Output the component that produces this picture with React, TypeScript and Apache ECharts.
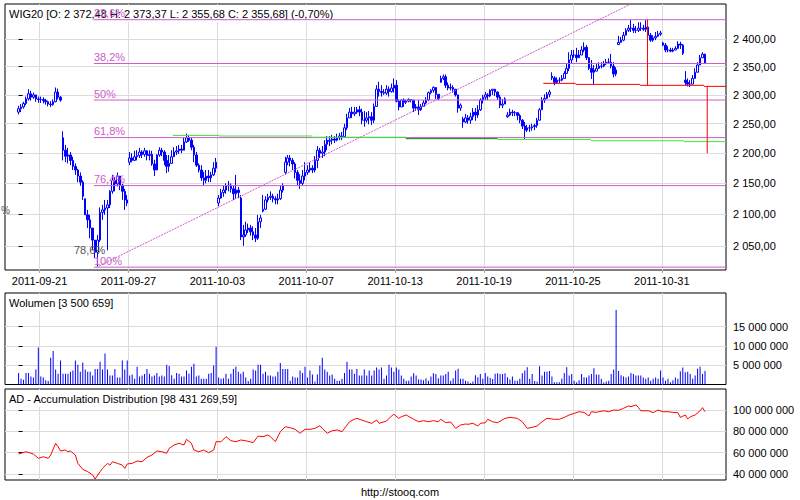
import React, { useEffect, useRef } from 'react';
import * as echarts from 'echarts';

const FONT = '"Liberation Sans", Arial, sans-serif';

const DAYS = ['2011-09-20','2011-09-21','2011-09-22','2011-09-23','2011-09-26','2011-09-27','2011-09-28','2011-09-29','2011-09-30','2011-10-03','2011-10-04','2011-10-05','2011-10-06','2011-10-07','2011-10-10','2011-10-11','2011-10-12','2011-10-13','2011-10-14','2011-10-17','2011-10-18','2011-10-19','2011-10-20','2011-10-21','2011-10-24','2011-10-25','2011-10-26','2011-10-27','2011-10-28','2011-10-31','2011-11-01'];
const BARS_PER_DAY = 9;
const X_LABEL_DAYS = ['2011-09-21','2011-09-27','2011-10-03','2011-10-07','2011-10-13','2011-10-19','2011-10-25','2011-10-31'];

const DAY_OPENS = [2270,2292,2226,2125,2110,2185,2198,2194,2197,2118,2126,2105,2168,2168,2220,2270,2256,2317,2279,2322,2258,2296,2262,2243,2333,2371,2342,2390,2420,2393,2326];

const CLOSES = [
  2276,2279,2285,2293,2302,2296,2300,2293,2292,
  2292,2290,2288,2284,2283,2288,2305,2296,2291,
  2205,2195,2197,2188,2178,2172,2162,2152,2129,
  2099,2091,2078,2059,2040,2059,2103,2107,2110,
  2115,2137,2155,2149,2162,2147,2137,2123,2118,
  2192,2188,2194,2196,2202,2198,2204,2196,2198,
  2182,2172,2197,2205,2202,2188,2178,2183,2194,
  2202,2204,2207,2205,2219,2226,2222,2210,2197,
  2180,2172,2159,2155,2162,2159,2164,2175,2185,
  2126,2135,2139,2146,2147,2141,2133,2139,2135,
  2064,2067,2075,2078,2072,2067,2062,2088,2094,
  2108,2123,2127,2129,2125,2123,2125,2139,2146,
  2185,2192,2188,2182,2168,2155,2150,2162,2168,
  2172,2175,2172,2188,2205,2200,2202,2215,2222,
  2222,2224,2222,2226,2229,2228,2243,2260,2270,
  2267,2270,2274,2270,2256,2256,2260,2262,2256,
  2280,2310,2306,2304,2303,2310,2306,2312,2317,
  2289,2279,2291,2287,2289,2292,2291,2277,2279,
  2274,2280,2286,2291,2304,2308,2313,2301,2293,
  2329,2332,2317,2312,2313,2310,2300,2277,2282,
  2253,2260,2256,2262,2270,2265,2274,2291,2296,
  2300,2298,2308,2310,2305,2296,2282,2284,2293,
  2265,2270,2269,2269,2264,2256,2246,2239,2243,
  2243,2245,2247,2256,2274,2291,2294,2301,2305,
  2330,2322,2326,2326,2329,2338,2347,2362,2371,
  2371,2366,2371,2380,2385,2366,2347,2340,2344,
  2347,2351,2351,2355,2358,2358,2351,2337,2344,
  2394,2398,2407,2416,2420,2420,2416,2416,2420,
  2420,2418,2422,2407,2398,2402,2405,2409,2411,
  2389,2380,2380,2378,2380,2383,2391,2389,2374,
  2322,2319,2319,2329,2340,2353,2366,2372.48,2355.68,
];

const HIGHS = [
  2281,2284,2288,2297,2310,2307,2304,2300,2297,
  2297,2296,2293,2290,2289,2292,2313,2311,2298,
  2237,2214,2209,2202,2194,2183,2174,2168,2155,
  2123,2107,2099,2078,2051,2067,2111,2115,2123,
  2123,2139,2164,2160,2168,2157,2149,2141,2131,
  2202,2200,2204,2205,2209,2205,2209,2205,2205,
  2204,2189,2198,2210,2209,2205,2197,2197,2205,
  2210,2212,2214,2214,2226,2233,2231,2226,2214,
  2202,2183,2180,2169,2172,2172,2169,2185,2192,
  2131,2141,2146,2150,2154,2150,2146,2164,2144,
  2131,2083,2088,2085,2083,2081,2078,2099,2099,
  2131,2129,2133,2137,2133,2129,2133,2146,2150,
  2194,2197,2197,2192,2185,2172,2165,2172,2185,
  2180,2185,2180,2195,2212,2209,2212,2222,2229,
  2229,2231,2229,2233,2234,2236,2250,2267,2277,
  2279,2279,2279,2281,2276,2272,2270,2272,2270,
  2285,2317,2323,2317,2310,2317,2315,2320,2329,
  2326,2292,2292,2294,2292,2294,2292,2291,2284,
  2291,2284,2291,2296,2306,2310,2315,2313,2301,
  2334,2336,2336,2322,2320,2317,2310,2297,2285,
  2262,2267,2265,2269,2277,2277,2282,2294,2300,
  2305,2303,2310,2310,2309,2306,2300,2293,2296,
  2270,2276,2274,2272,2270,2267,2258,2253,2248,
  2248,2250,2250,2260,2277,2296,2301,2305,2309,
  2340,2333,2331,2331,2335,2342,2356,2376,2380,
  2380,2384,2380,2387,2394,2389,2367,2362,2353,
  2355,2358,2358,2360,2364,2365,2373,2358,2349,
  2406,2404,2413,2420,2426,2435,2428,2424,2431,
  2431,2426,2435,2422,2411,2407,2413,2415,2415,
  2395,2393,2387,2384,2384,2387,2396,2395,2391,
  2342,2329,2326,2335,2347,2358,2371,2376,2373.37,
];

const LOWS = [
  2266,2270,2276,2282,2290,2290,2293,2288,2286,
  2286,2285,2283,2280,2279,2281,2287,2292,2288,
  2188,2185,2183,2180,2172,2164,2152,2146,2123,
  2099,2078,2062,2043,2031,2018,2056,2091,2099,
  2043,2110,2133,2137,2145,2139,2123,2107,2113,
  2180,2185,2187,2188,2192,2192,2194,2188,2188,
  2179,2162,2172,2194,2195,2180,2167,2169,2182,
  2194,2197,2199,2200,2205,2217,2219,2205,2185,
  2177,2168,2154,2146,2150,2152,2152,2162,2168,
  2113,2125,2128,2133,2137,2135,2123,2125,2126,
  2059,2050,2064,2070,2066,2059,2056,2059,2078,
  2103,2107,2119,2123,2119,2116,2116,2123,2135,
  2164,2180,2178,2172,2158,2147,2141,2146,2155,
  2164,2168,2167,2168,2175,2192,2192,2195,2205,
  2212,2215,2217,2220,2222,2222,2226,2239,2260,
  2260,2263,2267,2263,2249,2245,2252,2249,2248,
  2251,2279,2297,2297,2300,2300,2297,2304,2304,
  2287,2273,2282,2279,2284,2287,2287,2270,2272,
  2265,2272,2279,2284,2289,2301,2304,2293,2291,
  2322,2326,2312,2308,2308,2304,2297,2269,2272,
  2243,2251,2250,2250,2256,2255,2260,2272,2285,
  2291,2291,2296,2300,2298,2291,2277,2277,2284,
  2260,2263,2263,2263,2256,2251,2241,2224,2236,
  2236,2238,2239,2243,2256,2274,2286,2293,2296,
  2326,2317,2319,2321,2324,2328,2337,2342,2356,
  2366,2358,2366,2373,2376,2362,2344,2328,2319,
  2342,2346,2347,2349,2353,2355,2347,2331,2333,
  2389,2393,2396,2407,2413,2413,2411,2411,2413,
  2415,2415,2413,2398,2395,2395,2398,2404,2406,
  2387,2376,2376,2376,2376,2380,2382,2382,2371,
  2317,2315,2314,2319,2329,2340,2355,2366,2355.68,
];

// volume in millions of shares
const VOLUMES = [
  3.0,1.5,1.2,3.0,3.0,2.1,1.8,3.9,9.6,
  2.1,1.8,1.1,0.9,6.9,8.7,3.9,2.8,6.2,
  2.8,2.8,2.8,3.3,3.6,6.2,5.1,3.3,5.7,
  3.9,3.3,3.3,2.3,4.0,4.0,5.9,3.9,8.0,
  3.9,2.3,2.3,4.0,1.8,1.8,6.2,3.9,6.2,
  2.3,2.6,1.5,4.6,2.1,2.3,2.7,4.0,2.8,
  2.1,2.3,3.0,2.1,2.3,2.1,5.1,4.8,2.4,
  1.5,3.0,2.8,2.1,2.1,3.6,2.8,4.6,5.4,
  2.1,2.3,1.5,1.5,1.5,2.8,3.0,4.9,9.8,
  1.8,1.5,1.6,2.8,1.5,2.8,4.0,4.6,3.3,
  2.8,3.3,1.8,0.9,1.5,3.9,3.6,5.1,5.1,
  2.8,3.3,2.3,2.3,2.1,2.1,3.3,5.6,4.0,
  4.0,4.0,1.0,2.1,1.8,1.8,3.6,3.0,4.6,
  1.8,3.6,2.6,0.8,2.6,4.9,6.9,3.9,3.3,
  2.3,2.6,1.5,1.0,1.0,1.5,3.0,5.9,3.9,
  3.9,2.8,4.0,2.3,2.3,3.9,2.3,3.6,2.3,
  3.6,4.4,3.9,4.4,1.5,2.3,5.1,4.4,3.3,
  4.4,3.9,2.3,1.5,1.0,1.0,2.1,2.9,2.3,
  1.3,1.3,1.1,1.6,1.0,2.1,2.9,2.7,1.6,
  2.3,2.3,2.7,3.3,1.0,1.6,3.6,4.1,1.5,
  1.5,1.0,0.8,0.4,0.8,2.4,1.9,2.7,1.5,
  3.0,2.1,1.7,1.4,2.8,2.9,2.7,2.7,2.9,
  1.9,1.3,2.1,1.0,1.0,1.5,2.9,3.6,4.5,
  1.5,2.7,0.9,0.8,4.7,2.3,3.3,3.3,3.5,
  2.1,0.6,0.6,0.6,1.5,3.0,4.5,2.3,2.7,
  1.0,0.6,1.1,2.7,1.9,1.8,2.3,2.7,4.2,
  2.6,2.5,1.5,0.5,0.8,1.0,2.7,3.9,19.3,
  3.5,2.4,2.1,1.8,2.1,3.0,2.7,2.3,2.3,
  2.3,1.8,1.5,1.8,1.0,1.5,1.8,1.5,3.6,
  1.8,1.0,1.5,0.6,1.1,1.8,1.5,3.4,4.4,
  3.2,3.3,2.7,1.5,2.3,4.1,4.6,2.7,3.500659,
];

// Accumulation/Distribution (millions), read at these bar indices
const AD_INDEX = [0,3,6,8,10,12,13,15,16,17,19,20,21,23,24,26,28,30,31,33,34,36,37,38,40,42,43,44,46,48,50,52,54,56,58,60,61,63,65,67,68,70,71,73,75,77,79,80,82,84,86,88,90,92,95,97,99,101,102,104,106,108,110,112,114,116,118,120,122,123,125,127,129,131,134,136,137,139,141,143,145,146,149,151,152,154,155,157,160,162,164,166,168,170,171,173,175,177,179,181,182,184,186,187,189,190,192,194,197,199,202,204,206,208,210,212,214,217,219,221,223,225,227,229,231,232,234,235,237,239,241,243,245,247,248,250,251,252,255,257,259,261,263,265,267,268,270,271,272,274,276,277,278];
const AD_VALUES = [58.8,60.9,58.8,54.7,56.2,54.7,57.8,68.8,65.6,61.6,62.5,60.9,61.6,57.8,50.0,44.4,42.2,39.1,35.3,42.2,45.3,50.0,48.4,51.5,50.0,48.4,45.3,49.4,50.0,52.2,51.5,55.6,57.8,61.6,60.9,59.4,64.1,67.2,68.8,67.2,72.5,68.8,62.5,60.9,62.5,60.0,62.5,70.3,70.3,75.0,71.2,70.3,71.9,71.2,69.4,75.6,75.0,76.6,75.0,70.3,79.7,84.3,83.4,81.9,78.2,81.9,81.9,82.8,85.3,82.8,78.2,80.6,81.3,79.7,89.0,91.3,92.2,90.6,89.0,87.5,90.6,87.5,89.7,94.4,96.0,92.2,93.7,95.3,91.3,89.0,90.0,89.0,90.0,89.0,91.3,88.1,88.8,82.8,85.9,86.9,86.6,87.5,85.0,87.5,88.1,91.3,89.0,88.1,92.2,93.1,92.2,89.0,82.8,83.8,85.0,89.0,92.2,91.3,91.3,93.1,95.3,96.9,98.4,97.8,94.4,98.4,97.8,98.4,99.3,98.4,100,99.7,101.6,103.8,103.1,104.7,102.5,99.3,99.3,97.5,100,98.4,98.4,97.8,97.5,93.1,95.3,91.6,93.7,95.3,99.3,102.2,98.43126959];

const CHANGE_PCT = -0.70;

const PRICE_MIN = 2012.6;
const PRICE_MAX = 2465;
const PRICE_TICKS = [2050, 2100, 2150, 2200, 2250, 2300, 2350, 2400];
const VOLUME_MAX = 23.7e6;
const VOLUME_TICKS = [5e6, 10e6, 15e6];
const AD_MIN = 34.4e6;
const AD_MAX = 119.7e6;
const AD_TICKS = [40e6, 60e6, 80e6, 100e6];

// Fibonacci retracement
const FIB_LEVELS = [23.6, 38.2, 50, 61.8, 76.4, 100];
const FIB_LOW = 2017;
const FIB_HIGH = 2565;
const FIB_START_BAR = 30.5;
// trend line
const TREND_BARS = [31.6, 248.0];
const TREND_PRICES = [2017, 2465];
// green support steps
const GREEN_FROM = [62.5, 81.2, 118.8, 156.8, 194.0, 231.8, 269.5];
const GREEN_TO = [81.2, 118.8, 156.8, 194.0, 231.8, 269.5, 286.5];
const GREEN_PRICES = [2230, 2229, 2227, 2224.5, 2223, 2221, 2219.5];
const GREEN_DARK = [false, false, false, true, false, false, false];
// red lines
const RED_FROM = [212.5, 225.6, 251.7, 277.6];
const RED_TO = [225.6, 251.7, 277.6, 286.5];
const RED_PRICES = [2320.3, 2318.5, 2316.8, 2315];
const RED_VERT_BARS = [254.7, 278.9];
const RED_VERT_TOP = [2436, 2315];
const RED_VERT_BOTTOM = [2316.8, 2200];

const PAD_LEFT = 5.5;
const PAD_RIGHT = 8.5;

const GRID_COLOR = '#dcdcdc';
const BLUE = '#0000ff';
const FIB_COLOR = '#cc5ccc';

function fmtPl(n: number, dec: number): string {
  const s = n.toFixed(dec);
  const neg = s.startsWith('-');
  const body = neg ? s.slice(1) : s;
  const [intPart, frac] = body.split('.');
  const grouped = intPart.replace(/\B(?=(\d{3})+(?!\d))/g, ' ');
  return (neg ? '-' : '') + grouped + (frac ? ',' + frac : '');
}

export default function App() {
  const ref = useRef<HTMLDivElement>(null);

  useEffect(() => {
    if (!ref.current) return;
    const chart = echarts.init(ref.current, undefined, { renderer: 'svg' });
    const ln = Math.log;
    const n = CLOSES.length;
    const xMin = -PAD_LEFT;
    const xMax = n - 1 + PAD_RIGHT;

    const opens = CLOSES.map((c, i) => (i % BARS_PER_DAY === 0 ? DAY_OPENS[i / BARS_PER_DAY] : CLOSES[i - 1]));
    const candleData = CLOSES.map((c, i) => {
      const o = opens[i];
      const h = Math.max(HIGHS[i], o, c);
      const l = Math.min(LOWS[i], o, c);
      return [i, ln(o), ln(c), ln(l), ln(h)];
    });
    const last = n - 1;
    const header = `WIG20 [O: ${fmtPl(opens[last], 2)} H: ${fmtPl(HIGHS[last], 2)} L: ${fmtPl(LOWS[last], 2)} C: ${fmtPl(CLOSES[last], 2)}] (${fmtPl(CHANGE_PCT, 2)}%)`;
    const volTitle = `Wolumen [${fmtPl(VOLUMES[last] * 1e6, 0)}]`;
    const adTitle = `AD - Accumulation Distribution [${fmtPl(AD_VALUES[AD_VALUES.length - 1] * 1e6, 2)}]`;

    const dayStarts = X_LABEL_DAYS.map((d) => DAYS.indexOf(d) * BARS_PER_DAY - 0.5);
    const labelStyle = { color: '#000', fontSize: 11, fontFamily: FONT };

    const xAxisBase = (gridIndex: number, withLabels: boolean) => ({
      type: 'value',
      gridIndex,
      min: xMin,
      max: xMax,
      axisLine: { show: false },
      axisTick: { show: withLabels, length: 3, customValues: dayStarts, lineStyle: { color: '#aaaaaa' } },
      axisLabel: {
        show: withLabels,
        customValues: dayStarts,
        margin: 5,
        formatter: (v: number) => DAYS[Math.round((v + 0.5) / BARS_PER_DAY)] || '',
        ...labelStyle,
      },
      splitLine: { show: true, lineStyle: { color: GRID_COLOR, width: 1 } },
    });

    const yAxisBase = (gridIndex: number, min: number, max: number, ticks: number[], fmt: (v: number) => string) => ({
      type: 'value',
      gridIndex,
      position: 'right',
      min,
      max,
      axisLine: { show: false },
      axisTick: { show: true, length: 4, customValues: ticks, lineStyle: { color: '#000' } },
      axisLabel: { customValues: ticks, formatter: fmt, margin: 7, ...labelStyle },
      splitLine: { show: true, lineStyle: { color: GRID_COLOR, width: 1 } },
    });

    const titleStyle = { fontSize: 11, fontWeight: 'normal', fontFamily: FONT, color: '#000', lineHeight: 13 };

    const segSeries = (from: number[], to: number[], prices: number[], color: (k: number) => string) =>
      from.map((f, k) => ({
        type: 'line',
        xAxisIndex: 0,
        yAxisIndex: 0,
        z: 9,
        silent: true,
        symbol: 'none',
        lineStyle: { color: color(k), width: 1 },
        data: [[f, ln(prices[k])], [to[k], ln(prices[k])]],
      }));

    const fibSeries = FIB_LEVELS.map((p) => {
      const v = FIB_HIGH - (p / 100) * (FIB_HIGH - FIB_LOW);
      const name = String(p).replace('.', ',') + '%';
      return {
        type: 'line',
        xAxisIndex: 0,
        yAxisIndex: 0,
        z: 8,
        silent: true,
        symbol: 'circle',
        symbolSize: 0.01,
        showSymbol: true,
        itemStyle: { color: FIB_COLOR },
        lineStyle: { color: FIB_COLOR, width: 1, type: 'solid' },
        data: [
          {
            value: [FIB_START_BAR, ln(v)],
            label: {
              show: true,
              formatter: name,
              position: [0, -12],
              color: FIB_COLOR,
              fontSize: 11,
              fontFamily: FONT,
            },
          },
          { value: [xMax, ln(v)] },
        ],
      };
    });

    const option: any = {
      animation: false,
      backgroundColor: '#ffffff',
      title: [
        { text: header, left: 6, top: 5, padding: [2, 4, 2, 3], backgroundColor: '#fff', textStyle: titleStyle, z: 6 },
        { text: volTitle, left: 6, top: 294, padding: [2, 4, 2, 3], backgroundColor: '#fff', textStyle: titleStyle },
        { text: adTitle, left: 6, top: 390, padding: [2, 4, 2, 3], backgroundColor: '#fff', textStyle: titleStyle },
        { text: 'http://stooq.com', left: 'center', top: 485, padding: 0, textStyle: titleStyle },
      ],
      grid: [
        { left: 5, top: 4, width: 721, height: 266, show: true, borderColor: '#000', borderWidth: 1, containLabel: false, outerBoundsMode: 'none' },
        { left: 5, top: 293, width: 721, height: 91.5, show: true, borderColor: '#000', borderWidth: 1, containLabel: false, outerBoundsMode: 'none' },
        { left: 5, top: 389, width: 721, height: 91, show: true, borderColor: '#000', borderWidth: 1, containLabel: false, outerBoundsMode: 'none' },
      ],
      xAxis: [xAxisBase(0, true), xAxisBase(1, false), xAxisBase(2, false)],
      yAxis: [
        yAxisBase(0, ln(PRICE_MIN), ln(PRICE_MAX), PRICE_TICKS.map(ln), (v: number) => fmtPl(Math.exp(v), 2)),
        yAxisBase(1, 0, VOLUME_MAX, VOLUME_TICKS, (v: number) => fmtPl(v, 0)),
        yAxisBase(2, AD_MIN, AD_MAX, AD_TICKS, (v: number) => fmtPl(v, 0)),
      ],
      graphic: [
        { type: 'text', left: 74, top: 244, z: 10, style: { text: '78,6%', fill: '#555', font: `11px ${FONT}` } },
        { type: 'text', left: 1, top: 205, z: 10, style: { text: '%', fill: '#555', font: `10px ${FONT}` } },
      ],
      series: [
        {
          type: 'candlestick',
          xAxisIndex: 0,
          yAxisIndex: 0,
          barWidth: 2,
          encode: { x: 0, y: [1, 2, 3, 4] },
          itemStyle: { color: '#ffffff', color0: BLUE, borderColor: BLUE, borderColor0: BLUE, borderColorDoji: BLUE, borderWidth: 1 },
          data: candleData,
        },
        {
          type: 'line',
          xAxisIndex: 0,
          yAxisIndex: 0,
          z: 7,
          silent: true,
          symbol: 'none',
          lineStyle: { color: FIB_COLOR, width: 1, type: [2, 1] },
          data: TREND_BARS.map((b, k) => [b, ln(TREND_PRICES[k])]),
        },
        ...fibSeries,
        ...segSeries(GREEN_FROM, GREEN_TO, GREEN_PRICES, (k) => (GREEN_DARK[k] ? '#008000' : '#33ee33')),
        ...segSeries(RED_FROM, RED_TO, RED_PRICES, () => '#ff0000'),
        ...RED_VERT_BARS.map((b, k) => ({
          type: 'line',
          xAxisIndex: 0,
          yAxisIndex: 0,
          z: 9,
          silent: true,
          symbol: 'none',
          lineStyle: { color: '#ff0000', width: 1 },
          data: [[b, ln(RED_VERT_TOP[k])], [b, ln(RED_VERT_BOTTOM[k])]],
        })),
        {
          type: 'bar',
          xAxisIndex: 1,
          yAxisIndex: 1,
          barWidth: 1,
          itemStyle: { color: BLUE },
          data: VOLUMES.map((v, i) => [i, v * 1e6]),
        },
        {
          type: 'line',
          xAxisIndex: 2,
          yAxisIndex: 2,
          symbol: 'none',
          showSymbol: false,
          lineStyle: { color: '#ff0000', width: 1 },
          data: AD_INDEX.map((i, k) => [i, AD_VALUES[k] * 1e6]),
        },
      ],
    };

    chart.setOption(option);
    return () => chart.dispose();
  }, []);

  return (
    <div
      ref={ref}
      style={{ position: 'absolute', left: 0, top: 0, width: 800, height: 500, background: '#fff' }}
    />
  );
}
